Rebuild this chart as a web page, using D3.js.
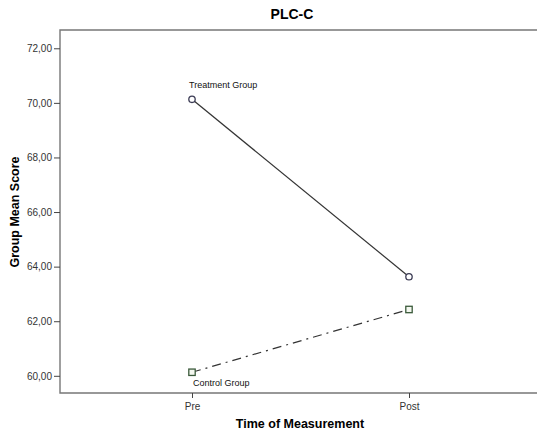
<!DOCTYPE html>
<html>
<head>
<meta charset="utf-8">
<script src="https://cdn.jsdelivr.net/npm/d3@7"></script>
<style>
body { margin: 0; background: #fff; }
text { font-family: "Liberation Sans", Arial, sans-serif; }
</style>
</head>
<body>
<div id="chart"></div>
<script>
var width = 537;
var height = 441;

// data
var times = ["Pre", "Post"];
var treatment = [70.13, 63.63];
var control = [60.13, 62.43];
var yTicks = [60, 62, 64, 66, 68, 70, 72];

var margin = {top: 30, left: 60, bottom: 393};
var plotRight = 541;

var svg = d3.select("#chart")
  .append("svg")
  .attr("width", width)
  .attr("height", height);

var x = d3.scalePoint().domain(times).range([192, 409]);
var y = d3.scaleLinear().domain([59.37, 72.67]).range([margin.bottom, margin.top]);

// frame (top, left, bottom)
svg.append("path")
  .attr("d", "M" + plotRight + "," + margin.top + "H" + margin.left + "V" + margin.bottom + "H" + plotRight)
  .attr("fill", "none")
  .attr("stroke", "#777")
  .attr("stroke-width", 1.4);

// y axis
var yAxis = d3.axisLeft(y)
  .tickValues(yTicks)
  .tickSize(6)
  .tickFormat(function(d) { return d3.format(".2f")(d).replace(".", ","); });
var gy = svg.append("g").attr("transform", "translate(" + margin.left + ",0)").call(yAxis);
gy.select(".domain").remove();
gy.selectAll(".tick line").attr("stroke", "#444");
gy.selectAll(".tick text").attr("font-size", 10).attr("fill", "#333").attr("x", -8)
  .style("font-family", "Liberation Sans, Arial, sans-serif");

// x axis
var xAxis = d3.axisBottom(x).tickSize(5);
var gx = svg.append("g").attr("transform", "translate(0," + margin.bottom + ")").call(xAxis);
gx.select(".domain").remove();
gx.selectAll(".tick line").attr("stroke", "#444");
gx.selectAll(".tick text").attr("font-size", 10).attr("fill", "#333").attr("dy", "0.9em")
  .style("font-family", "Liberation Sans, Arial, sans-serif");

// lines
var line = d3.line()
  .x(function(d, i) { return x(times[i]); })
  .y(function(d) { return y(d); });

svg.append("path")
  .datum(treatment)
  .attr("d", line)
  .attr("fill", "none")
  .attr("stroke", "#333")
  .attr("stroke-width", 1.2);

svg.append("path")
  .datum(control)
  .attr("d", line)
  .attr("fill", "none")
  .attr("stroke", "#333")
  .attr("stroke-width", 1.2)
  .attr("stroke-dasharray", "9,5,2,5");

// markers
svg.selectAll(".tmark")
  .data(treatment)
  .enter().append("circle")
  .attr("cx", function(d, i) { return x(times[i]); })
  .attr("cy", function(d) { return y(d); })
  .attr("r", 3.2)
  .attr("fill", "#fff")
  .attr("stroke", "#3c3c55")
  .attr("stroke-width", 1.3);

svg.selectAll(".cmark")
  .data(control)
  .enter().append("rect")
  .attr("x", function(d, i) { return x(times[i]) - 3.2; })
  .attr("y", function(d) { return y(d) - 3.2; })
  .attr("width", 6.4)
  .attr("height", 6.4)
  .attr("fill", "#f4f8f0")
  .attr("stroke", "#3a5a3a")
  .attr("stroke-width", 1.3);

// series labels
svg.append("text")
  .attr("x", x("Pre") - 3)
  .attr("y", y(treatment[0]) - 11)
  .attr("font-size", 9)
  .attr("fill", "#111")
  .text("Treatment Group");

svg.append("text")
  .attr("x", x("Pre") + 1)
  .attr("y", y(control[0]) + 14)
  .attr("font-size", 9)
  .attr("fill", "#111")
  .text("Control Group");

// titles
svg.append("text")
  .attr("x", 292)
  .attr("y", 19)
  .attr("text-anchor", "middle")
  .attr("font-size", 14)
  .attr("font-weight", "bold")
  .text("PLC-C");

svg.append("text")
  .attr("transform", "translate(19,212) rotate(-90)")
  .attr("text-anchor", "middle")
  .attr("font-size", 12.5)
  .attr("font-weight", "bold")
  .text("Group Mean Score");

svg.append("text")
  .attr("x", 300)
  .attr("y", 428)
  .attr("text-anchor", "middle")
  .attr("font-size", 12.5)
  .attr("font-weight", "bold")
  .text("Time of Measurement");
</script>
</body>
</html>
